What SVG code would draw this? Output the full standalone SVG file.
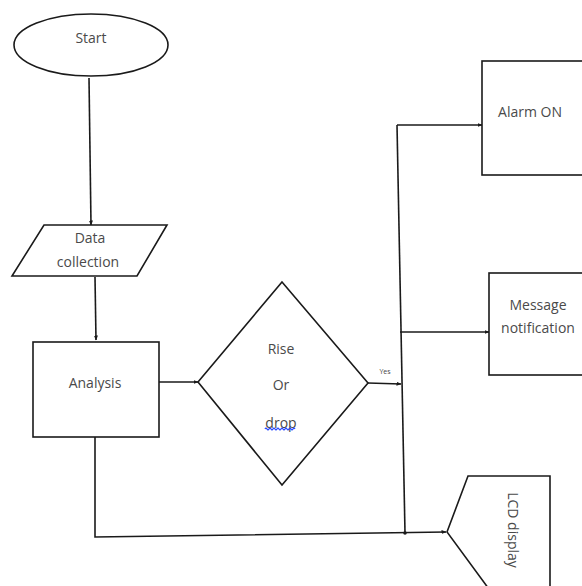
<svg xmlns="http://www.w3.org/2000/svg" width="582" height="586" viewBox="0 0 582 586">
<style>
.s{fill:#fff;stroke:#1a1a1a;stroke-width:1.6}
.c{fill:none;stroke:#1a1a1a;stroke-width:1.6}
.t{font-family:"Open Sans","Noto Sans",sans-serif;font-size:14px;fill:#4a4a4a;text-anchor:middle}
.y{font-family:"Open Sans","Noto Sans",sans-serif;font-size:7px;fill:#444;text-anchor:middle}
</style>
<defs>
<marker id="a" markerWidth="5" markerHeight="5" refX="4.5" refY="2.5" orient="auto" markerUnits="userSpaceOnUse"><path d="M0,0.5 L5,2.5 L0,4.5 Z" fill="#1a1a1a"/></marker>
</defs>
<rect width="582" height="586" fill="#fff"/>
<g id="connectors">
<path class="c" d="M89,78 L91,225" marker-end="url(#a)"/>
<path class="c" d="M95,277 L96,340" marker-end="url(#a)"/>
<path class="c" d="M159,382 L198,382" marker-end="url(#a)"/>
<path class="c" d="M368,383 L401,384" marker-end="url(#a)"/>
<path class="c" d="M397,125 L405,533"/>
<path class="c" d="M397,125 L482,125" marker-end="url(#a)"/>
<path class="c" d="M400,332 L489,332" marker-end="url(#a)"/>
<path class="c" d="M95,437 L95,537 L446,532" marker-end="url(#a)"/>
<circle cx="405" cy="533" r="1.8" fill="#1a1a1a"/>
<text class="y" x="385" y="374">Yes</text>
</g>
<g id="start">
<ellipse class="s" cx="91" cy="45" rx="77" ry="31"/>
<text class="t" x="91" y="43">Start</text>
</g>
<g id="data">
<polygon class="s" points="44,225 167,225 137,276 12,276"/>
<text class="t" x="90" y="243">Data</text>
<text class="t" x="88" y="267">collection</text>
</g>
<g id="analysis">
<rect class="s" x="33" y="342" width="126" height="95"/>
<text class="t" x="95" y="388">Analysis</text>
</g>
<g id="decision">
<polygon class="s" points="282,282 368,383 282,485 198,382"/>
<text class="t" x="281" y="354">Rise</text>
<text class="t" x="281" y="390">Or</text>
<text class="t" x="281" y="428">drop</text>
<path d="M265,429 q1,-2 2,0 t2,0 t2,0 t2,0 t2,0 t2,0 t2,0 t2,0 t2,0 t2,0 t2,0 t2,0 t2,0 t2,0 t2,0" fill="none" stroke="#1a3cff" stroke-width="1.2"/>
</g>
<g id="alarm">
<rect class="s" x="482" y="61" width="110" height="114"/>
<text class="t" x="530" y="117">Alarm ON</text>
</g>
<g id="message">
<rect class="s" x="489" y="273" width="103" height="102"/>
<text class="t" x="538" y="310">Message</text>
<text class="t" x="538" y="333">notification</text>
</g>
<g id="lcd">
<polygon class="s" points="447,532 468,476 550,476 550,600 497,600"/>
<text class="t" transform="translate(508,530) rotate(90)">LCD display</text>
</g>
</svg>
